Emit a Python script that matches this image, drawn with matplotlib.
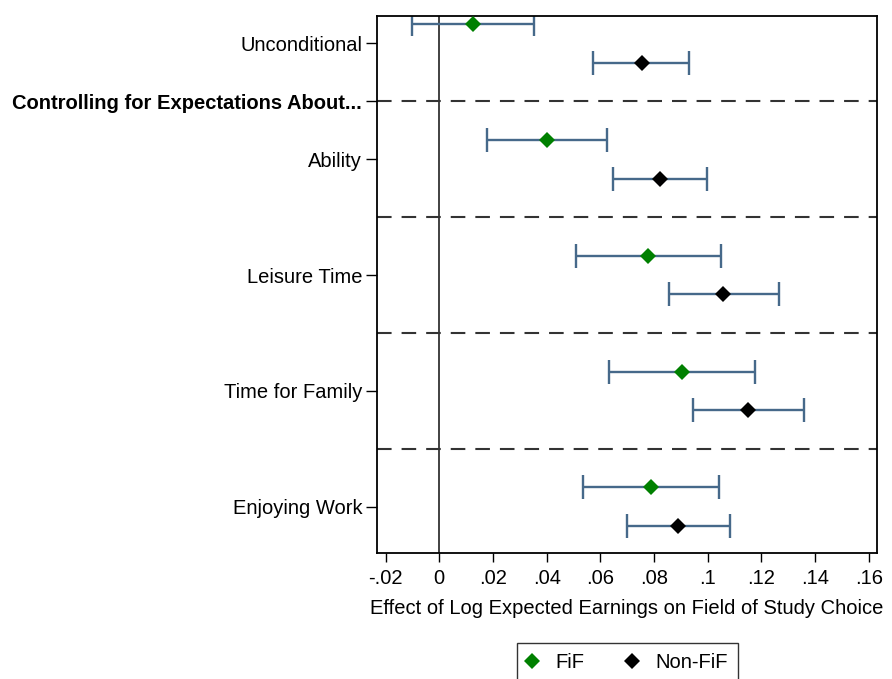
import matplotlib.pyplot as plt
from matplotlib.lines import Line2D
import numpy as np

plt.rcParams['font.family'] = ['Liberation Sans', 'DejaVu Sans']

# Estimates and 95% CIs
groups = ["Unconditional", "Ability", "Leisure Time", "Time for Family", "Enjoying Work"]

fif_est = [0.0127, 0.0402, 0.0778, 0.0905, 0.0790]
fif_lo = [-0.0102, 0.0179, 0.0509, 0.0632, 0.0535]
fif_hi = [0.0354, 0.0626, 0.1048, 0.1177, 0.1043]

nonfif_est = [0.0754, 0.0822, 0.1058, 0.1151, 0.0890]
nonfif_lo = [0.0574, 0.0646, 0.0856, 0.0945, 0.0699]
nonfif_hi = [0.0931, 0.0997, 0.1264, 0.1357, 0.1082]

xticks = [-0.02, 0, 0.02, 0.04, 0.06, 0.08, 0.1, 0.12, 0.14, 0.16]
xticklabels = ["-.02", "0", ".02", ".04", ".06", ".08", ".1", ".12", ".14", ".16"]

ci_color = "#46698a"
green = "#008000"
fs = 14.5

fig = plt.figure(figsize=(8.92, 6.79), dpi=100)
ax = fig.add_axes([0.4232, 0.1860, 0.9828 - 0.4232, 0.9769 - 0.1860])

n = len(groups)
y_fif = np.arange(n) * 3
y_non = y_fif + 1

# separators between groups
for yy in y_fif[:-1] + 2:
    ax.axhline(yy, color="#333333", lw=1.5, dashes=(7, 4.8), zorder=1)
ax.axvline(0, color="#333333", lw=1.3, zorder=1)

fif_err = [np.array(fif_est) - np.array(fif_lo), np.array(fif_hi) - np.array(fif_est)]
non_err = [np.array(nonfif_est) - np.array(nonfif_lo), np.array(nonfif_hi) - np.array(nonfif_est)]

ax.errorbar(fif_est, y_fif, xerr=fif_err, fmt="none", ecolor=ci_color,
            elinewidth=1.7, capsize=8.5, capthick=1.7, zorder=2)
ax.errorbar(nonfif_est, y_non, xerr=non_err, fmt="none", ecolor=ci_color,
            elinewidth=1.7, capsize=8.5, capthick=1.7, zorder=2)
ax.plot(fif_est, y_fif, "D", color=green, ms=8.5, mew=0, zorder=3)
ax.plot(nonfif_est, y_non, "D", color="black", ms=8.5, mew=0, zorder=3)

yt = list(y_fif + 0.5)
yl = list(groups)
yt.insert(1, 2)
yl.insert(1, "Controlling for Expectations About...")
ax.set_yticks(yt)
ax.set_yticklabels(yl, fontsize=fs)
ax.get_yticklabels()[1].set_fontweight("bold")

ax.set_xticks(xticks)
ax.set_xticklabels(xticklabels, fontsize=fs)
ax.set_xlim(-0.0230, 0.1629)
ax.set_ylim(13.69, -0.22)
ax.set_xlabel("Effect of Log Expected Earnings on Field of Study Choice", fontsize=fs, labelpad=8)

ax.tick_params(axis="y", length=8, width=1, pad=3)
ax.tick_params(axis="x", length=6.5, width=1, pad=5.5)
for s in ax.spines.values():
    s.set_linewidth(1.3)

handles = [Line2D([], [], ls="none", marker="D", color=green, ms=8.5, mew=0),
           Line2D([], [], ls="none", marker="D", color="black", ms=8.5, mew=0)]
leg = fig.legend(handles, ["FiF", "Non-FiF"], loc="upper center",
                 bbox_to_anchor=((519 + 735.7) / 2 / 892, 1 - 643 / 679), ncol=2,
                 fontsize=fs, frameon=True, fancybox=False, edgecolor="black",
                 handlelength=0.5, handletextpad=0.9, columnspacing=2.15,
                 borderpad=0.5, borderaxespad=0)
leg.get_frame().set_linewidth(1.0)

fig.savefig("out.png", dpi=100)
